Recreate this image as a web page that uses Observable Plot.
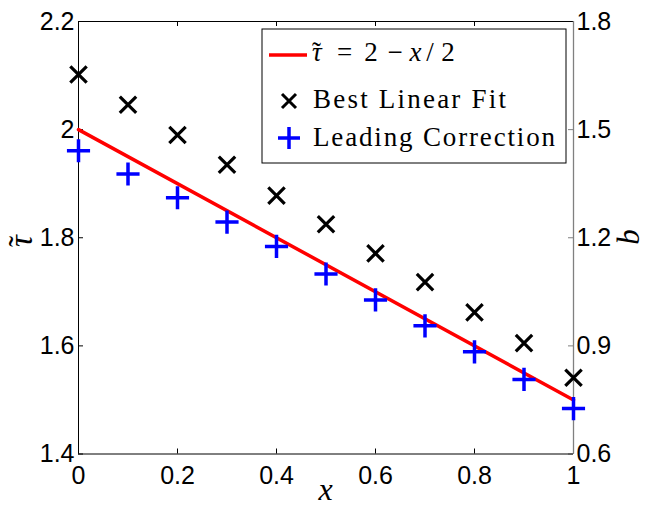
<!DOCTYPE html>
<html><head><meta charset="utf-8">
<script src="https://cdn.jsdelivr.net/npm/d3@7"></script>
<script src="https://cdn.jsdelivr.net/npm/@observablehq/plot@0.6"></script>
<style>body{margin:0;background:#fff;overflow:hidden}</style>
</head><body><div id="chart"></div>
<script>
const xValues = [0, 0.1, 0.2, 0.3, 0.4, 0.5, 0.6, 0.7, 0.8, 0.9, 1.0];
const bestLinearFit = [2.102, 2.046, 1.990, 1.935, 1.878, 1.825, 1.771, 1.718, 1.662, 1.605, 1.541];
const leadingCorrection = [1.961, 1.918, 1.874, 1.829, 1.784, 1.733, 1.685, 1.637, 1.589, 1.538, 1.484];
const lineX = [0, 1];
const lineTau = [2.0, 1.5];
const xTicks = [0, 0.2, 0.4, 0.6, 0.8, 1];
const tauTicks = [1.4, 1.6, 1.8, 2.0, 2.2];
const bTicks = [0.6, 0.9, 1.2, 1.5, 1.8];

const W = 649, H = 506;
const mL = 78, mR = 76, mT = 21, mB = 52.5;
const PW = W - mL - mR, PH = H - mT - mB;
const TL = 5;

const fitData = xValues.map((x, i) => ({x, y: bestLinearFit[i]}));
const corrData = xValues.map((x, i) => ({x, y: leadingCorrection[i]}));
const lineData = lineX.map((x, i) => ({x, y: lineTau[i]}));

const svg = Plot.plot({
  width: W, height: H,
  marginLeft: mL, marginRight: mR, marginTop: mT, marginBottom: mB,
  style: {fontFamily: "'Liberation Sans', Arial, sans-serif", fontSize: "25px", background: "#fff", color: "#000", overflow: "visible"},
  x: {domain: [0, 1]},
  y: {domain: [1.4, 2.2]},
  marks: [
    Plot.axisX(xTicks, {tickSize: 0, tickPadding: 12.5, label: null, tickFormat: d => String(+d.toFixed(1))}),
    Plot.axisY(tauTicks, {anchor: "left", tickSize: 0, tickPadding: 4, label: null, tickFormat: d => String(+d.toFixed(1))}),
    Plot.axisY(tauTicks, {anchor: "right", tickSize: 0, tickPadding: 3, label: null,
      tickFormat: d => bTicks[tauTicks.findIndex(t => Math.abs(t - d) < 1e-9)].toFixed(1)}),
    Plot.tickX(xTicks, {x: d => d, insetTop: PH - TL, stroke: "#000"}),
    Plot.tickX(xTicks, {x: d => d, insetBottom: PH - TL, stroke: "#000"}),
    Plot.tickY(tauTicks, {y: d => d, insetRight: PW - TL, stroke: "#000"}),
    Plot.tickY(tauTicks, {y: d => d, insetLeft: PW - TL, stroke: "#808080"}),
    Plot.ruleY([1.4, 2.2], {stroke: "#000"}),
    Plot.ruleX([0], {stroke: "#000"}),
    Plot.ruleX([1], {stroke: "#808080", strokeWidth: 1.3}),
    Plot.line(lineData, {x: "x", y: "y", stroke: "#ff0000", strokeWidth: 3.5}),
    Plot.dot(fitData, {x: "x", y: "y", symbol: "times", r: 7.5, stroke: "#000", strokeWidth: 3.2}),
    Plot.dot(corrData, {x: "x", y: "y", symbol: "plus", r: 7.5, stroke: "#0000ff", strokeWidth: 3.5})
  ]
});
document.getElementById("chart").appendChild(svg);

const s = d3.select(svg);
const serif = "'Liberation Serif', 'Times New Roman', serif";
function tauTilde(parent, x, y, size) {
  const t = parent.append("text").attr("x", x).attr("y", y).attr("text-anchor", "start")
    .attr("font-family", serif).attr("font-size", size);
  t.append("tspan").attr("font-style", "italic").text("τ");
  t.append("tspan").attr("dx", (-0.36 * size).toFixed(2)).attr("dy", "0").text("˜");
  return t;
}
s.append("text").attr("x", 325.5).attr("y", 500).attr("text-anchor", "middle")
  .attr("font-family", serif).attr("font-style", "italic").attr("font-size", 32).text("x");
tauTilde(s.append("g").attr("transform", "translate(32,239) rotate(-90)"), -8, 0, 33);
s.append("text").attr("transform", "translate(639,237) rotate(-90)").attr("text-anchor", "middle")
  .attr("font-family", serif).attr("font-style", "italic").attr("font-size", 31).text("b");

const lg = s.append("g").attr("text-anchor", "start");
lg.append("rect").attr("x", 262).attr("y", 29).attr("width", 304).attr("height", 134)
  .attr("fill", "#fff").attr("stroke", "#000").attr("stroke-width", 1);
lg.append("line").attr("x1", 269).attr("x2", 307).attr("y1", 55).attr("y2", 55)
  .attr("stroke", "#ff0000").attr("stroke-width", 3.5);
tauTilde(lg, 312, 61, 27);
const fm = [["=", 344.5, false], ["2", 371, false], ["−", 395, false], ["x", 415.5, true], ["/", 430, false], ["2", 448, false]];
fm.forEach(([ch, cx, it]) => {
  lg.append("text").attr("x", cx).attr("y", 61).attr("text-anchor", "middle").attr("font-family", serif)
    .attr("font-size", 27).attr("font-style", it ? "italic" : "normal").text(ch);
});
lg.append("path").attr("d", "M282,94L296,108M296,94L282,108").attr("stroke", "#000").attr("stroke-width", 3).attr("fill", "none");
lg.append("text").attr("x", 313).attr("y", 108).attr("text-anchor", "start").attr("font-family", serif).attr("font-size", 27)
  .attr("textLength", 193).attr("lengthAdjust", "spacing").text("Best Linear Fit");
lg.append("path").attr("d", "M278,138L300,138M289,127L289,149").attr("stroke", "#0000ff").attr("stroke-width", 3.5).attr("fill", "none");
lg.append("text").attr("x", 313).attr("y", 146).attr("text-anchor", "start").attr("font-family", serif).attr("font-size", 27)
  .attr("textLength", 242).attr("lengthAdjust", "spacing").text("Leading Correction");
</script>
</body></html>
